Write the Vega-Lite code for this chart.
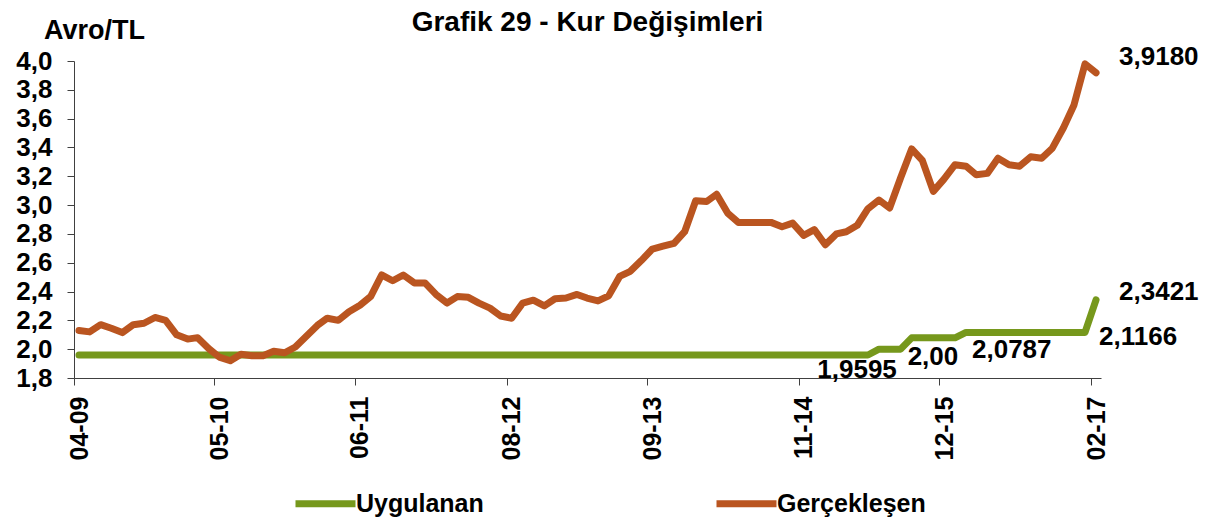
{
  "$schema": "https://vega.github.io/schema/vega-lite/v6.json",
  "width": 1027,
  "height": 317,
  "autosize": {"type": "none"},
  "padding": {"left": 74, "top": 61, "right": 110, "bottom": 147},
  "background": "white",
  "config": {
    "view": {"stroke": null},
    "font": "Liberation Sans",
    "axis": {"grid": false}
  },
  "title": {
    "text": "Grafik 29 - Kur Değişimleri",
    "font": "Liberation Sans",
    "fontSize": 28,
    "fontWeight": "bold",
    "color": "black",
    "anchor": "middle",
    "frame": "group",
    "dy": 25
  },
  "datasets": {
    "rates": [
      {"date": "2009-04-15", "Uygulanan": 1.9595, "Gerçekleşen": 2.13},
      {"date": "2009-05-15", "Uygulanan": 1.9595, "Gerçekleşen": 2.12},
      {"date": "2009-06-15", "Uygulanan": 1.9595, "Gerçekleşen": 2.17},
      {"date": "2009-07-15", "Uygulanan": 1.9595, "Gerçekleşen": 2.145},
      {"date": "2009-08-15", "Uygulanan": 1.9595, "Gerçekleşen": 2.115},
      {"date": "2009-09-15", "Uygulanan": 1.9595, "Gerçekleşen": 2.17},
      {"date": "2009-10-15", "Uygulanan": 1.9595, "Gerçekleşen": 2.18},
      {"date": "2009-11-15", "Uygulanan": 1.9595, "Gerçekleşen": 2.22},
      {"date": "2009-12-15", "Uygulanan": 1.9595, "Gerçekleşen": 2.2},
      {"date": "2010-01-15", "Uygulanan": 1.9595, "Gerçekleşen": 2.1},
      {"date": "2010-02-15", "Uygulanan": 1.9595, "Gerçekleşen": 2.07},
      {"date": "2010-03-15", "Uygulanan": 1.9595, "Gerçekleşen": 2.08},
      {"date": "2010-04-15", "Uygulanan": 1.9595, "Gerçekleşen": 2.005},
      {"date": "2010-05-15", "Uygulanan": 1.9595, "Gerçekleşen": 1.945},
      {"date": "2010-06-15", "Uygulanan": 1.9595, "Gerçekleşen": 1.92},
      {"date": "2010-07-15", "Uygulanan": 1.9595, "Gerçekleşen": 1.965},
      {"date": "2010-08-15", "Uygulanan": 1.9595, "Gerçekleşen": 1.955},
      {"date": "2010-09-15", "Uygulanan": 1.9595, "Gerçekleşen": 1.955},
      {"date": "2010-10-15", "Uygulanan": 1.9595, "Gerçekleşen": 1.985},
      {"date": "2010-11-15", "Uygulanan": 1.9595, "Gerçekleşen": 1.975},
      {"date": "2010-12-15", "Uygulanan": 1.9595, "Gerçekleşen": 2.015},
      {"date": "2011-01-15", "Uygulanan": 1.9595, "Gerçekleşen": 2.09},
      {"date": "2011-02-15", "Uygulanan": 1.9595, "Gerçekleşen": 2.165},
      {"date": "2011-03-15", "Uygulanan": 1.9595, "Gerçekleşen": 2.215},
      {"date": "2011-04-15", "Uygulanan": 1.9595, "Gerçekleşen": 2.2},
      {"date": "2011-05-15", "Uygulanan": 1.9595, "Gerçekleşen": 2.26},
      {"date": "2011-06-15", "Uygulanan": 1.9595, "Gerçekleşen": 2.305},
      {"date": "2011-07-15", "Uygulanan": 1.9595, "Gerçekleşen": 2.365},
      {"date": "2011-08-15", "Uygulanan": 1.9595, "Gerçekleşen": 2.515},
      {"date": "2011-09-15", "Uygulanan": 1.9595, "Gerçekleşen": 2.475},
      {"date": "2011-10-15", "Uygulanan": 1.9595, "Gerçekleşen": 2.515},
      {"date": "2011-11-15", "Uygulanan": 1.9595, "Gerçekleşen": 2.46},
      {"date": "2011-12-15", "Uygulanan": 1.9595, "Gerçekleşen": 2.46},
      {"date": "2012-01-15", "Uygulanan": 1.9595, "Gerçekleşen": 2.38},
      {"date": "2012-02-15", "Uygulanan": 1.9595, "Gerçekleşen": 2.32},
      {"date": "2012-03-15", "Uygulanan": 1.9595, "Gerçekleşen": 2.365},
      {"date": "2012-04-15", "Uygulanan": 1.9595, "Gerçekleşen": 2.36},
      {"date": "2012-05-15", "Uygulanan": 1.9595, "Gerçekleşen": 2.32},
      {"date": "2012-06-15", "Uygulanan": 1.9595, "Gerçekleşen": 2.285},
      {"date": "2012-07-15", "Uygulanan": 1.9595, "Gerçekleşen": 2.23},
      {"date": "2012-08-15", "Uygulanan": 1.9595, "Gerçekleşen": 2.215},
      {"date": "2012-09-15", "Uygulanan": 1.9595, "Gerçekleşen": 2.32},
      {"date": "2012-10-15", "Uygulanan": 1.9595, "Gerçekleşen": 2.34},
      {"date": "2012-11-15", "Uygulanan": 1.9595, "Gerçekleşen": 2.3},
      {"date": "2012-12-15", "Uygulanan": 1.9595, "Gerçekleşen": 2.35},
      {"date": "2013-01-15", "Uygulanan": 1.9595, "Gerçekleşen": 2.355},
      {"date": "2013-02-15", "Uygulanan": 1.9595, "Gerçekleşen": 2.38},
      {"date": "2013-03-15", "Uygulanan": 1.9595, "Gerçekleşen": 2.355},
      {"date": "2013-04-15", "Uygulanan": 1.9595, "Gerçekleşen": 2.335},
      {"date": "2013-05-15", "Uygulanan": 1.9595, "Gerçekleşen": 2.37},
      {"date": "2013-06-15", "Uygulanan": 1.9595, "Gerçekleşen": 2.505},
      {"date": "2013-07-15", "Uygulanan": 1.9595, "Gerçekleşen": 2.54},
      {"date": "2013-08-15", "Uygulanan": 1.9595, "Gerçekleşen": 2.615},
      {"date": "2013-09-15", "Uygulanan": 1.9595, "Gerçekleşen": 2.695},
      {"date": "2013-10-15", "Uygulanan": 1.9595, "Gerçekleşen": 2.715},
      {"date": "2013-11-15", "Uygulanan": 1.9595, "Gerçekleşen": 2.735},
      {"date": "2013-12-15", "Uygulanan": 1.9595, "Gerçekleşen": 2.815},
      {"date": "2014-01-15", "Uygulanan": 1.9595, "Gerçekleşen": 3.03},
      {"date": "2014-02-15", "Uygulanan": 1.9595, "Gerçekleşen": 3.025},
      {"date": "2014-03-15", "Uygulanan": 1.9595, "Gerçekleşen": 3.075},
      {"date": "2014-04-15", "Uygulanan": 1.9595, "Gerçekleşen": 2.945},
      {"date": "2014-05-15", "Uygulanan": 1.9595, "Gerçekleşen": 2.88},
      {"date": "2014-06-15", "Uygulanan": 1.9595, "Gerçekleşen": 2.88},
      {"date": "2014-07-15", "Uygulanan": 1.9595, "Gerçekleşen": 2.88},
      {"date": "2014-08-15", "Uygulanan": 1.9595, "Gerçekleşen": 2.88},
      {"date": "2014-09-15", "Uygulanan": 1.9595, "Gerçekleşen": 2.85},
      {"date": "2014-10-15", "Uygulanan": 1.9595, "Gerçekleşen": 2.875},
      {"date": "2014-11-15", "Uygulanan": 1.9595, "Gerçekleşen": 2.79},
      {"date": "2014-12-15", "Uygulanan": 1.9595, "Gerçekleşen": 2.83},
      {"date": "2015-01-15", "Uygulanan": 1.9595, "Gerçekleşen": 2.725},
      {"date": "2015-02-15", "Uygulanan": 1.9595, "Gerçekleşen": 2.8},
      {"date": "2015-03-15", "Uygulanan": 1.9595, "Gerçekleşen": 2.815},
      {"date": "2015-04-15", "Uygulanan": 1.9595, "Gerçekleşen": 2.86},
      {"date": "2015-05-15", "Uygulanan": 1.9595, "Gerçekleşen": 2.975},
      {"date": "2015-06-15", "Uygulanan": 2.0, "Gerçekleşen": 3.035},
      {"date": "2015-07-15", "Uygulanan": 2.0, "Gerçekleşen": 2.98},
      {"date": "2015-08-15", "Uygulanan": 2.0, "Gerçekleşen": 3.19},
      {"date": "2015-09-15", "Uygulanan": 2.0787, "Gerçekleşen": 3.39},
      {"date": "2015-10-15", "Uygulanan": 2.0787, "Gerçekleşen": 3.31},
      {"date": "2015-11-15", "Uygulanan": 2.0787, "Gerçekleşen": 3.095},
      {"date": "2015-12-15", "Uygulanan": 2.0787, "Gerçekleşen": 3.18},
      {"date": "2016-01-15", "Uygulanan": 2.0787, "Gerçekleşen": 3.28},
      {"date": "2016-02-15", "Uygulanan": 2.1166, "Gerçekleşen": 3.27},
      {"date": "2016-03-15", "Uygulanan": 2.1166, "Gerçekleşen": 3.21},
      {"date": "2016-04-15", "Uygulanan": 2.1166, "Gerçekleşen": 3.22},
      {"date": "2016-05-15", "Uygulanan": 2.1166, "Gerçekleşen": 3.325},
      {"date": "2016-06-15", "Uygulanan": 2.1166, "Gerçekleşen": 3.28},
      {"date": "2016-07-15", "Uygulanan": 2.1166, "Gerçekleşen": 3.27},
      {"date": "2016-08-15", "Uygulanan": 2.1166, "Gerçekleşen": 3.335},
      {"date": "2016-09-15", "Uygulanan": 2.1166, "Gerçekleşen": 3.325},
      {"date": "2016-10-15", "Uygulanan": 2.1166, "Gerçekleşen": 3.395},
      {"date": "2016-11-15", "Uygulanan": 2.1166, "Gerçekleşen": 3.535},
      {"date": "2016-12-15", "Uygulanan": 2.1166, "Gerçekleşen": 3.695},
      {"date": "2017-01-15", "Uygulanan": 2.1166, "Gerçekleşen": 3.98},
      {"date": "2017-02-15", "Uygulanan": 2.3421, "Gerçekleşen": 3.918}
    ],
    "labels": [
      {"date": "2017-02-15", "value": 3.918, "label": "3,9180"},
      {"date": "2017-02-15", "value": 2.3421, "label": "2,3421"},
      {"date": "2017-01-15", "value": 2.1166, "label": "2,1166"},
      {"date": "2016-01-15", "value": 2.0787, "label": "2,0787"},
      {"date": "2015-08-15", "value": 2.0, "label": "2,00"},
      {"date": "2015-04-15", "value": 1.9595, "label": "1,9595"}
    ]
  },
  "encoding": {
    "x": {
      "field": "date",
      "type": "temporal",
      "title": null,
      "scale": {
        "type": "utc",
        "domain": [
          {"year": 2009, "month": 4, "date": 1, "utc": true},
          {"year": 2017, "month": 3, "date": 1, "utc": true}
        ]
      },
      "axis": {
        "values": [
          {"year": 2009, "month": 4, "date": 1, "utc": true},
          {"year": 2010, "month": 5, "date": 1, "utc": true},
          {"year": 2011, "month": 6, "date": 1, "utc": true},
          {"year": 2012, "month": 8, "date": 1, "utc": true},
          {"year": 2013, "month": 9, "date": 1, "utc": true},
          {"year": 2014, "month": 11, "date": 1, "utc": true},
          {"year": 2015, "month": 12, "date": 1, "utc": true},
          {"year": 2017, "month": 2, "date": 1, "utc": true}
        ],
        "labelExpr": "utcFormat(datum.value, '%m-%y')",
        "labelAngle": 270,
        "labelFont": "Liberation Sans",
        "labelFontSize": 25,
        "labelFontWeight": "bold",
        "labelColor": "black",
        "labelPadding": 11,
        "labelOffset": 5,
        "labelOverlap": false,
        "labelBound": false,
        "labelFlush": false,
        "tickSize": 7,
        "tickColor": "#404040",
        "domainColor": "#404040"
      }
    },
    "y": {
      "field": "value",
      "type": "quantitative",
      "title": "Avro/TL",
      "scale": {"domain": [1.8, 4.0], "nice": false, "zero": false},
      "axis": {
        "values": [1.8, 2.0, 2.2, 2.4, 2.6, 2.8, 3.0, 3.2, 3.4, 3.6, 3.8, 4.0],
        "labelExpr": "replace(format(datum.value, '.1f'), '.', ',')",
        "labelFont": "Liberation Sans",
        "labelFontSize": 26,
        "labelFontWeight": "bold",
        "labelColor": "black",
        "labelPadding": 15,
        "labelOverlap": false,
        "labelBound": false,
        "labelFlush": false,
        "tickSize": 7,
        "tickColor": "#404040",
        "domainColor": "#404040",
        "titleAngle": 0,
        "titleAlign": "center",
        "titleBaseline": "alphabetic",
        "titleX": 20,
        "titleY": -23,
        "titleFont": "Liberation Sans",
        "titleFontSize": 27,
        "titleFontWeight": "bold",
        "titleColor": "black"
      }
    }
  },
  "layer": [
    {
      "data": {"name": "rates"},
      "transform": [{"fold": ["Uygulanan", "Gerçekleşen"], "as": ["series", "value"]}],
      "mark": {"type": "line", "strokeWidth": 7, "strokeCap": "round", "strokeJoin": "round"},
      "encoding": {
        "color": {
          "field": "series",
          "type": "nominal",
          "scale": {"domain": ["Uygulanan", "Gerçekleşen"], "range": ["#76981C", "#BA5520"]},
          "legend": {
            "orient": "none",
            "legendX": 218,
            "legendY": 409,
            "direction": "horizontal",
            "title": null,
            "symbolType": "stroke",
            "symbolSize": 3600,
            "symbolStrokeWidth": 7,
            "labelFont": "Liberation Sans",
            "labelFontSize": 25,
            "labelFontWeight": "bold",
            "labelColor": "black",
            "labelOffset": -3,
            "labelLimit": 400,
            "columnPadding": 218
          }
        }
      }
    },
    {
      "data": {"name": "labels"},
      "transform": [{"filter": "datum.label === '3,9180'"}],
      "mark": {"type": "text", "align": "left", "baseline": "middle", "dx": 23, "dy": -16, "font": "Liberation Sans", "fontSize": 26, "fontWeight": "bold", "color": "black"},
      "encoding": {"text": {"field": "label"}}
    },
    {
      "data": {"name": "labels"},
      "transform": [{"filter": "datum.label === '2,3421'"}],
      "mark": {"type": "text", "align": "left", "baseline": "middle", "dx": 23, "dy": -8, "font": "Liberation Sans", "fontSize": 26, "fontWeight": "bold", "color": "black"},
      "encoding": {"text": {"field": "label"}}
    },
    {
      "data": {"name": "labels"},
      "transform": [{"filter": "datum.label === '2,1166'"}],
      "mark": {"type": "text", "align": "left", "baseline": "middle", "dx": 14, "dy": 5, "font": "Liberation Sans", "fontSize": 26, "fontWeight": "bold", "color": "black"},
      "encoding": {"text": {"field": "label"}}
    },
    {
      "data": {"name": "labels"},
      "transform": [{"filter": "datum.label === '2,0787'"}],
      "mark": {"type": "text", "align": "left", "baseline": "middle", "dx": 17, "dy": 12, "font": "Liberation Sans", "fontSize": 26, "fontWeight": "bold", "color": "black"},
      "encoding": {"text": {"field": "label"}}
    },
    {
      "data": {"name": "labels"},
      "transform": [{"filter": "datum.label === '2,00'"}],
      "mark": {"type": "text", "align": "left", "baseline": "middle", "dx": 7, "dy": 8, "font": "Liberation Sans", "fontSize": 26, "fontWeight": "bold", "color": "black"},
      "encoding": {"text": {"field": "label"}}
    },
    {
      "data": {"name": "labels"},
      "transform": [{"filter": "datum.label === '1,9595'"}],
      "mark": {"type": "text", "align": "left", "baseline": "middle", "dx": -40, "dy": 15, "font": "Liberation Sans", "fontSize": 26, "fontWeight": "bold", "color": "black"},
      "encoding": {"text": {"field": "label"}}
    }
  ]
}
